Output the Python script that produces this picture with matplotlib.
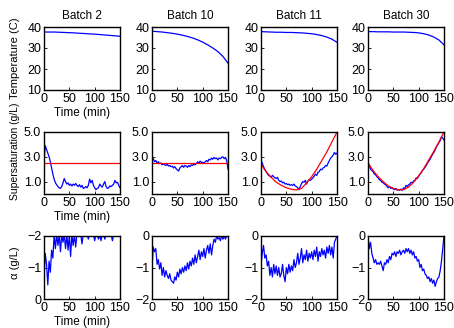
import numpy as np
import matplotlib.pyplot as plt

plt.rcParams['font.family'] = ['Liberation Sans', 'DejaVu Sans']

batches = ['Batch 2', 'Batch 10', 'Batch 11', 'Batch 30']

# temperature, read every 10 min
t_temp = np.arange(0, 151, 10)
temp_b2 = [37.6, 37.6, 37.6, 37.5, 37.4, 37.3, 37.2, 37.0, 36.9, 36.7, 36.6, 36.4, 36.2, 36.0, 35.8, 35.6]
temp_b10 = [38.0, 37.8, 37.6, 37.3, 37.0, 36.6, 36.1, 35.5, 34.8, 33.9, 32.8, 31.5, 30.0, 28.3, 26.0, 22.8]
temp_b11 = [37.8, 37.7, 37.6, 37.5, 37.5, 37.4, 37.4, 37.3, 37.2, 37.0, 36.8, 36.4, 35.9, 35.2, 34.2, 32.7]
temp_b30 = [37.8, 37.8, 37.7, 37.7, 37.7, 37.6, 37.6, 37.6, 37.5, 37.4, 37.2, 36.8, 36.2, 35.2, 33.8, 31.5]

# supersaturation setpoints (red)
sp_b2 = [2.5, 2.5]
sp_b10 = [2.5, 2.5]
sp_b11 = [2.4, 1.8, 1.35, 0.95, 0.7, 0.5, 0.38, 0.33, 0.45, 0.9, 1.4, 2.0, 2.7, 3.4, 4.2, 5.0]
sp_b30 = [2.5, 1.9, 1.4, 1.0, 0.65, 0.45, 0.35, 0.35, 0.55, 0.95, 1.45, 2.05, 2.75, 3.45, 4.2, 5.0]

# measured supersaturation, every 2.5 min
t_meas = np.arange(0, 150.1, 2.5)
ss_b2 = [2.5, 3.9, 3.6, 3.3, 3.0, 2.6, 2.1, 1.6, 1.2, 0.9,
         0.75, 0.6, 0.5, 0.45, 0.6, 0.9, 1.25, 1.0, 0.8, 0.9,
         0.7, 0.8, 0.65, 0.8, 0.7, 0.85, 0.7, 0.6, 0.75, 0.55,
         0.7, 0.45, 0.5, 0.6, 0.5, 0.7, 1.2, 0.9, 1.1, 0.7,
         0.5, 0.35, 0.45, 0.5, 0.8, 0.65, 0.55, 0.8, 1.0, 0.6,
         0.45, 0.5, 0.65, 0.6, 0.7, 0.8, 1.1, 0.9, 0.95, 0.7,
         0.5]
ss_b10 = [2.7, 2.85, 2.6, 2.7, 2.5, 2.6, 2.45, 2.5, 2.35, 2.45,
          2.35, 2.3, 2.4, 2.25, 2.3, 2.2, 2.25, 2.1, 2.2, 2.05,
          1.95, 1.85, 2.1, 2.2, 2.3, 2.15, 2.3, 2.25, 2.15, 2.3,
          2.2, 2.35, 2.3, 2.4, 2.35, 2.45, 2.6, 2.5, 2.65, 2.55,
          2.55, 2.5, 2.6, 2.7, 2.6, 2.8, 2.75, 2.9, 2.8, 2.95,
          2.85, 2.9, 2.75, 2.9, 2.85, 2.95, 3.0, 2.85, 2.95, 2.7,
          2.0]
ss_b11 = [2.7, 2.5, 2.2, 2.0, 1.8, 1.65, 1.5, 1.45, 1.35, 1.5,
          1.4, 1.3, 1.25, 1.35, 1.1, 1.0, 1.05, 0.9, 0.95, 0.8,
          0.85, 0.75, 0.8, 0.7, 0.75, 0.7, 0.8, 0.65, 0.6, 0.5,
          0.35, 0.6, 0.85, 1.0, 0.95, 1.1, 0.8, 1.05, 1.15, 1.1,
          1.2, 1.3, 1.45, 1.6, 1.5, 1.75, 1.8, 2.0, 1.95, 2.1,
          2.15, 2.3, 2.25, 2.5, 2.7, 2.9, 3.0, 3.15, 3.35, 3.2,
          3.3]
ss_b30 = [2.55, 2.3, 2.0, 1.9, 1.8, 1.6, 1.55, 1.4, 1.3, 1.15,
          1.1, 0.95, 0.9, 0.8, 0.75, 0.6, 0.5, 0.6, 0.45, 0.5,
          0.4, 0.35, 0.45, 0.3, 0.35, 0.3, 0.4, 0.3, 0.5, 0.45,
          0.7, 0.6, 0.75, 0.8, 0.95, 0.9, 1.05, 1.1, 1.3, 1.25,
          1.45, 1.6, 1.7, 1.9, 2.0, 2.15, 2.3, 2.5, 2.65, 2.8,
          3.0, 3.2, 3.35, 3.55, 3.8, 3.95, 4.15, 4.3, 4.6, 4.5,
          4.35]

# alpha, every 2.5 min
al_b2 = [-0.7, -1.45, -1.1, -0.45, -1.2, -0.85, -1.55, -1.3, -2.05, -1.6,
         -2.05, -1.7, -2.05, -1.5, -2.05, -1.8, -2.05, -1.6, -2.05, -1.55,
         -2.05, -1.35, -2.05, -1.7, -2.05, -1.65, -2.05, -2.05, -2.05, -2.05,
         -1.75, -2.05, -2.05, -2.05, -2.05, -1.9, -2.05, -2.05, -2.05, -2.05,
         -1.85, -2.05, -2.05, -1.9, -2.05, -1.85, -2.05, -2.05, -1.9, -2.05,
         -2.05, -2.05, -2.05, -2.05, -1.85, -2.05, -2.05, -2.05, -2.05, -2.05,
         -2.05]
al_b10 = [-1.0, -0.35, -0.5, -0.4, -0.9, -0.75, -1.05, -0.85, -1.25, -1.0,
          -1.3, -1.1, -1.25, -1.35, -1.2, -1.4, -1.45, -1.5, -1.3, -1.4,
          -1.15, -1.3, -1.05, -1.2, -1.0, -1.15, -0.95, -1.1, -0.85, -1.05,
          -0.8, -0.95, -0.7, -0.9, -0.6, -0.85, -0.65, -0.45, -0.75, -0.5,
          -0.65, -0.4, -0.7, -0.45, -0.3, -0.55, -0.25, -0.6, -0.3, -0.1,
          -0.2, 0.0, -0.1, -0.05, -0.15, 0.0, -0.1, 0.0, -0.1, 0.0,
          0.0]
al_b11 = [-0.9, -0.55, -0.3, -0.7, -0.6, -0.95, -0.8, -1.25, -1.0, -1.3,
          -0.9, -1.2, -0.95, -1.25, -1.0, -1.3, -1.2, -0.9, -1.25, -1.45,
          -1.0, -1.2, -0.9, -1.15, -0.95, -1.1, -0.75, -1.0, -0.85, -0.55,
          -0.9, -0.7, -0.4, -0.85, -0.6, -0.75, -0.45, -0.8, -0.55, -0.7,
          -0.5, -0.75, -0.45, -0.65, -0.35, -0.8, -0.5, -0.65, -0.4, -0.6,
          -0.45, -0.7, -0.35, -0.55, -0.3, -0.6, -0.35, -0.7, -0.2, -0.1,
          0.0]
al_b30 = [0.0, -0.4, -0.2, -0.55, -0.7, -0.85, -0.75, -0.9, -0.85, -0.9,
          -0.8, -0.95, -1.1, -0.85, -0.9, -0.75, -0.85, -0.65, -0.75, -0.55,
          -0.6, -0.5, -0.65, -0.5, -0.55, -0.45, -0.6, -0.5, -0.45, -0.55,
          -0.4, -0.5, -0.4, -0.55, -0.45, -0.6, -0.5, -0.7, -0.65, -0.8,
          -0.75, -1.0, -0.9, -1.1, -1.05, -1.2, -1.25, -1.35, -1.3, -1.45,
          -1.35, -1.5, -1.4, -1.6, -1.45, -1.35, -1.3, -1.1, -0.8, -0.4,
          0.0]

temps = [temp_b2, temp_b10, temp_b11, temp_b30]
sps = [sp_b2, sp_b10, sp_b11, sp_b30]
sss = [ss_b2, ss_b10, ss_b11, ss_b30]
als = [al_b2, al_b10, al_b11, al_b30]

W, H = 454, 328
fig = plt.figure(figsize=(W / 100, H / 100), dpi=100)

col_x = [44, 152, 261, 368]
row_y = [(27, 90), (132, 194), (236, 299)]
aw = 76


def make_ax(c, r):
    top, bot = row_y[r]
    ax = fig.add_axes([col_x[c] / W, 1 - bot / H, aw / W, (bot - top) / H])
    ax.tick_params(direction='in', length=2.5, width=0.6, labelsize=9, pad=2)
    for s in ax.spines.values():
        s.set_linewidth(1.0)
    ax.set_xlim(0, 150)
    ax.set_xticks([0, 50, 100, 150])
    return ax


for c in range(4):
    # temperature
    ax = make_ax(c, 0)
    ax.plot(t_temp, temps[c], color='blue', lw=0.9)
    ax.set_ylim(10, 40)
    ax.set_yticks([10, 20, 30, 40])
    ax.set_title(batches[c], fontsize=8.5, pad=6)
    if c == 0:
        ax.set_ylabel('Temperature (C)', fontsize=8)
        ax.yaxis.set_label_coords(-0.31, 0.5)
        ax.set_xlabel('Time (min)', fontsize=8.5, labelpad=1.5)

    # supersaturation
    ax = make_ax(c, 1)
    ax.plot(t_meas, sss[c], color='blue', lw=0.9)
    if len(sps[c]) == 2:
        ax.plot([0, 150], sps[c], color='red', lw=0.9)
    else:
        ax.plot(t_temp, sps[c], color='red', lw=0.9)
    ax.set_ylim(0, 5)
    ax.set_yticks([1, 3, 5])
    ax.set_yticklabels(['1.0', '3.0', '5.0'])
    if c == 0:
        ax.set_ylabel('Supersaturation (g/L)', fontsize=7.5)
        ax.yaxis.set_label_coords(-0.31, 0.69)
        ax.set_xlabel('Time (min)', fontsize=8.5, labelpad=1.5)

    # alpha
    ax = make_ax(c, 2)
    ax.plot(t_meas, als[c], color='blue', lw=0.9)
    if c == 0:
        ax.set_ylim(0, -2)
        ax.set_ylabel('α (g/L)', fontsize=8)
        ax.yaxis.set_label_coords(-0.31, 0.58)
        ax.set_xlabel('Time (min)', fontsize=8.5, labelpad=1.5)
    else:
        ax.set_ylim(-2, 0)
    ax.set_yticks([-2, -1, 0])
    ax.set_yticklabels(['\u22122', '\u22121', '0'])

fig.savefig('out.png', dpi=100)
